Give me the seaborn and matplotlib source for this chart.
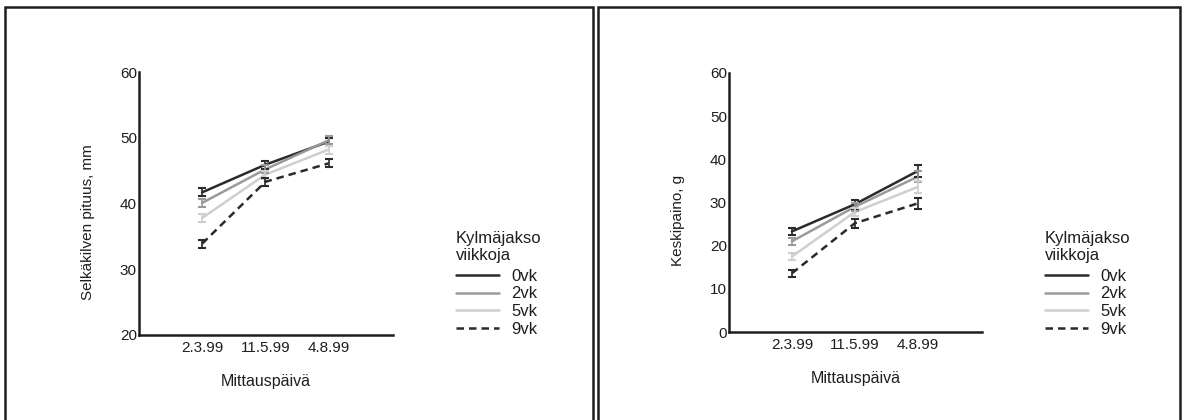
import numpy as np
import pandas as pd
import matplotlib
matplotlib.use("Agg")
import matplotlib.pyplot as plt
from matplotlib.patches import Rectangle
import seaborn as sns

dates = ["2.3.99", "11.5.99", "4.8.99"]
groups = ["0vk", "2vk", "5vk", "9vk"]

# Selkäkilven pituus, mm
length_0 = [41.7, 45.9, 49.4]
length_2 = [40.1, 45.2, 49.6]
length_5 = [37.8, 44.4, 48.2]
length_9 = [33.9, 43.3, 46.1]
length_err = [0.6, 0.6, 0.6]

# Keskipaino, g
weight_0 = [23.3, 29.6, 37.3]
weight_2 = [21.0, 29.0, 36.0]
weight_5 = [17.5, 27.8, 33.6]
weight_9 = [13.6, 25.2, 29.8]
weight_err = [0.8, 1.0, 1.3]

legend_title = "Kylmäjakso\nviikkoja"

sns.set_theme(style="white")
plt.rcParams["font.family"] = ["Liberation Sans", "DejaVu Sans"]

palette = {"0vk": "#2a2a2a", "2vk": "#9a9a9a", "5vk": "#cfcfcf", "9vk": "#2a2a2a"}
dashes = {"0vk": "", "2vk": "", "5vk": "", "9vk": (3, 2)}
TXT = "#1e1e1e"

def make_df(series):
    rows = []
    for g, vals in zip(groups, series):
        for i, (d, v) in enumerate(zip(dates, vals)):
            rows.append({"pos": i + 1, "date": d, "group": g, "value": v})
    return pd.DataFrame(rows)

fig = plt.figure(figsize=(11.83, 4.2), dpi=100)

def panel(rect, series, err, ylim, yticks, ylabel, leg_x, ylabel_xy):
    ax = fig.add_axes(rect)
    df = make_df(series)
    sns.lineplot(data=df, x="pos", y="value", hue="group", style="group",
                 palette=palette, dashes=dashes, errorbar=None, ax=ax,
                 linewidth=1.8, legend=True)
    for g, vals in zip(groups, series):
        ax.errorbar([1, 2, 3], vals, yerr=err, fmt="none", ecolor=palette[g],
                    elinewidth=1.2, capsize=3, capthick=1.5)
    ax.set_xlim(0, 4.02)
    ax.set_ylim(*ylim)
    ax.set_xticks([1, 2, 3, 4])
    ax.set_xticklabels(dates + [""])
    ax.set_yticks(yticks)
    ax.tick_params(direction="in", length=7, width=1.5, labelsize=11,
                   color=TXT, labelcolor=TXT)
    ax.tick_params(axis="x", pad=4)
    ax.tick_params(axis="y", pad=1.5)
    for s in ["top", "right"]:
        ax.spines[s].set_visible(False)
    for s in ["left", "bottom"]:
        ax.spines[s].set_linewidth(1.8)
        ax.spines[s].set_color(TXT)
    ax.set_xlabel("Mittauspäivä", fontsize=11.5, labelpad=14, color=TXT)
    ax.set_ylabel("")
    fig.text(ylabel_xy[0], ylabel_xy[1], ylabel, rotation=90,
             fontsize=11, ha="center", va="center", color=TXT)
    handles, labels = ax.get_legend_handles_labels()
    ax.get_legend().remove()
    fig.text(leg_x / 1183, 1 - 247 / 420, legend_title, fontsize=12,
             ha="left", va="center", color=TXT, linespacing=1.2)
    leg = fig.legend(handles, labels,
                     loc="upper left", bbox_to_anchor=(leg_x / 1183, 1 - 269 / 420),
                     frameon=False, fontsize=12,
                     handlelength=2.6, handletextpad=0.7,
                     labelspacing=0.15, borderaxespad=0, borderpad=0)
    for t in leg.get_texts():
        t.set_color(TXT)
    return ax

panel([139 / 1183, 1 - 335 / 420, 254 / 1183, 263 / 420],
      [length_0, length_2, length_5, length_9], length_err,
      (20, 60), [20, 30, 40, 50, 60], "Selkäkilven pituus, mm",
      456, (88 / 1183, 1 - 222 / 420))

panel([729 / 1183, 1 - 332 / 420, 253 / 1183, 259 / 420],
      [weight_0, weight_2, weight_5, weight_9], weight_err,
      (0, 60), [0, 10, 20, 30, 40, 50, 60], "Keskipaino, g",
      1045, (678 / 1183, 1 - 220 / 420))

for x0, x1 in [(5, 593), (598, 1180)]:
    fig.add_artist(Rectangle((x0 / 1183, -0.01), (x1 - x0) / 1183, 1 - 7 / 420 + 0.01,
                             transform=fig.transFigure, fill=False,
                             lw=1.8, edgecolor=TXT))

fig.savefig("out.png", dpi=100)
